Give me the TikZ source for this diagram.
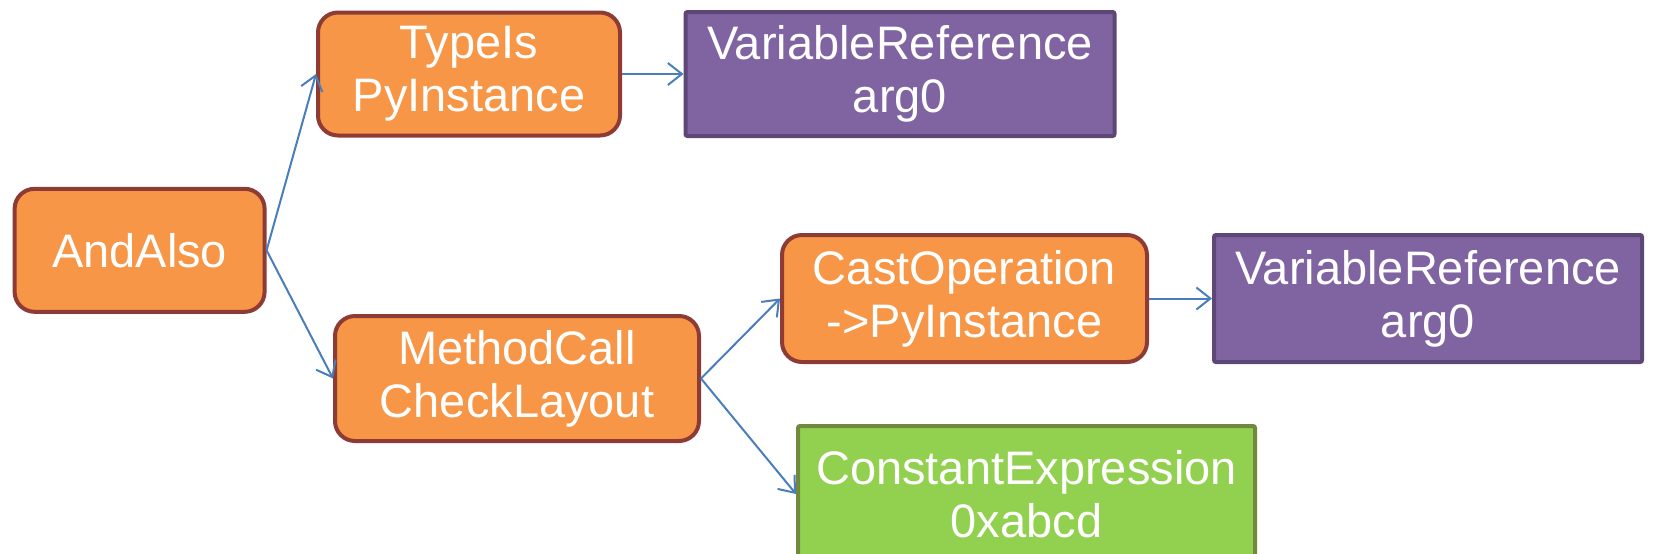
\documentclass[tikz,border=0pt]{standalone}
\usepackage{fontspec}
\setmainfont{Liberation Sans}
\usetikzlibrary{arrows.meta}
\definecolor{orfill}{HTML}{F79646}
\definecolor{ordraw}{HTML}{8E3B36}
\definecolor{pufill}{HTML}{8064A2}
\definecolor{pudraw}{HTML}{5C4776}
\definecolor{grfill}{HTML}{92D050}
\definecolor{grdraw}{HTML}{71893F}
\definecolor{arr}{HTML}{4A7EBB}
\begin{document}
\begin{tikzpicture}[x=0.5pt,y=-0.5pt,
  box/.style={line width=2pt, text=white, align=center, inner sep=0pt,
    font=\fontsize{23.5pt}{26.5pt}\selectfont},
  orbox/.style={box, fill=orfill, draw=ordraw, rounded corners=10pt},
  pubox/.style={box, fill=pufill, draw=pudraw, rounded corners=1pt},
  grbox/.style={box, fill=grfill, draw=grdraw, rounded corners=1pt},
  link/.style={draw=arr, line width=1pt, -{Straight Barb[length=7pt,width=11pt,line width=1pt]}}]
\useasboundingbox (0,0) rectangle (1653,553);
\node[orbox, minimum width=125pt, minimum height=61.5pt] (and) at (139.6,250.3) {AndAlso};
\node[orbox, minimum width=151pt, minimum height=61.5pt] (type) at (469,74) {TypeIs\\PyInstance};
\node[pubox, minimum width=214.5pt, minimum height=62pt] (var1) at (900,74) {VariableReference\\arg0};
\node[orbox, minimum width=182pt, minimum height=62.5pt] (meth) at (517,378.5) {MethodCall\\CheckLayout};
\node[orbox, minimum width=182.5pt, minimum height=63.5pt] (cast) at (964.5,298.5) {CastOperation\\->PyInstance};
\node[pubox, minimum width=214pt, minimum height=63.5pt] (var2) at (1428,298.5) {VariableReference\\arg0};
\node[grbox, minimum width=228.5pt, minimum height=68pt] (const) at (1026.5,494) {ConstantExpression\\0xabcd};
\draw[link] (and.east) -- (type.west);
\draw[link] (and.east) -- (meth.west);
\draw[link] (type.east) -- (var1.west);
\draw[link] (meth.east) -- (cast.west);
\draw[link] (meth.east) -- (const.west);
\draw[link] (cast.east) -- (var2.west);
\end{tikzpicture}
\end{document}
